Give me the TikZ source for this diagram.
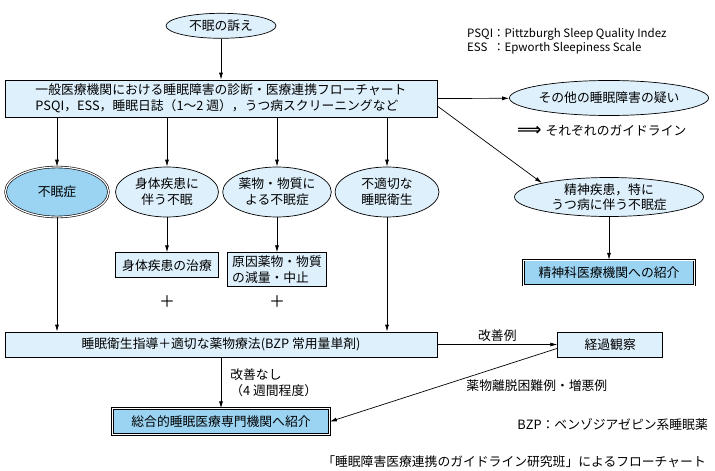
\documentclass[tikz,border=0pt]{standalone}
\usepackage{fontspec}
\setmainfont{Noto Sans CJK JP}
\newfontfamily\arrowfont{DejaVu Sans}
\usetikzlibrary{arrows.meta, positioning, shapes.geometric, calc}

\definecolor{paleblue}{RGB}{222,240,252}
\definecolor{midblue}{RGB}{155,212,242}
\newcommand{\flowfont}{\fontsize{12.8}{16}\selectfont}
\newcommand{\smallflowfont}{\fontsize{11.5}{14}\selectfont}

\tikzset{%
  oval/.style={draw, ellipse, fill=paleblue, line width=0.7pt, inner sep=0pt, align=center, font=\flowfont},
  keyoval/.style={oval, fill=midblue, line width=0.6pt, double, double distance=1.2pt},
  box/.style={draw, rectangle, fill=paleblue, line width=0.7pt, inner sep=0pt, align=center, font=\flowfont},
  keybox/.style={box, fill=midblue, line width=0.6pt, double, double distance=1.2pt},
  flow/.style={line width=0.7pt, -{Latex[length=7pt,width=4pt]}},
  note/.style={inner sep=0pt, align=left, font=\flowfont},
}

\begin{document}
\begin{tikzpicture}[x=1pt, y=-1pt]
  \useasboundingbox (0,0) rectangle (715,471);

  \node[box, minimum width=432pt, minimum height=37pt, align=left] (triage) at (221,98.5)
    {一般医療機関における睡眠障害の診断・医療連携フローチャート\\PSQI，ESS，睡眠日誌（1～2 週），うつ病スクリーニングなど};
  \node[oval, minimum width=110pt, minimum height=25pt] (complaint) [above = 41pt of triage] {不眠の訴え};

  \node[note, font=\smallflowfont] (abbr) [anchor=west] at (467,42)
    {\begin{tabular}{@{}l@{}l@{}}PSQI&：Pittzburgh Sleep Quality Indez\\ESS&：Epworth Sleepiness Scale\end{tabular}};

  \node[oval, minimum width=192pt, minimum height=35pt] (other) at (609,98) {その他の睡眠障害の疑い};
  \node[note] (guide) [anchor=west] at (517,131) {{\arrowfont\bfseries\fontsize{17}{17}\selectfont ⟹}\hspace{4pt}それぞれのガイドライン};

  \node[keyoval, minimum width=103pt, minimum height=50pt] (insomnia) at (57,192) {不眠症};
  \node[oval, minimum width=103pt, minimum height=50pt] (somatic) at (167,192) {身体疾患に\\伴う不眠};
  \node[oval, minimum width=103pt, minimum height=50pt] (drug) at (277,192) {薬物・物質に\\よる不眠症};
  \node[oval, minimum width=104pt, minimum height=50pt] (hygiene) at (387,192) {不適切な\\睡眠衛生};
  \node[oval, minimum width=189pt, minimum height=39pt, font=\fontsize{12.8}{14.5}\selectfont] (psych) at (609,197) {精神疾患，特に\\うつ病に伴う不眠症};

  \node[box, minimum width=103pt, minimum height=25pt] (cure) [below = 35pt of somatic] {身体疾患の治療};
  \node[box, minimum width=99pt, minimum height=34pt, align=left] (reduce) [below = 35pt of drug] {原因薬物・物質\\の減量・中止};
  \node[keybox, minimum width=171pt, minimum height=25pt] (psychref) [below = 43pt of psych] {精神科医療機関への紹介};

  \node[note, font=\fontsize{16}{16}\selectfont] (plus1) at (167,302) {＋};
  \node[note, font=\fontsize{16}{16}\selectfont] (plus2) at (277,302) {＋};

  \node[box, minimum width=432pt, minimum height=25pt] (treat) at (221,344.5) {睡眠衛生指導＋適切な薬物療法(BZP 常用量単剤)};
  \node[box, minimum width=105pt, minimum height=25pt] (follow) [right = 120pt of treat] {経過観察};
  \node[keybox, minimum width=217pt, minimum height=26pt] (refer) [below = 51pt of treat] {総合的睡眠医療専門機関へ紹介};

  \node[note] (bzp) [anchor=east] at (708,425) {BZP：ベンゾジアゼピン系睡眠薬};
  \node[note] (source) [anchor=east] at (706,462) {「睡眠障害医療連携のガイドライン研究班」によるフローチャート};

  \draw[flow] (complaint) -- (triage);
  \draw[flow] (triage.east) -- (other);
  \draw[flow] ($(triage.north east)!0.7!(triage.south east)$) -- (psych.north west);
  \draw[flow] (triage.south -| insomnia.north) -- (insomnia);
  \draw[flow] (triage.south -| somatic.north) -- (somatic);
  \draw[flow] (triage.south -| drug.north) -- (drug);
  \draw[flow] (triage.south -| hygiene.north) -- (hygiene);

  \draw[flow] (somatic) -- (cure);
  \draw[flow] (drug) -- (reduce);
  \draw[flow] (psych) -- (psychref);
  \draw[flow] (insomnia) -- (insomnia |- treat.north);
  \draw[flow] (hygiene) -- (hygiene |- treat.north);

  \draw[flow] (treat) to node[note, above=3pt] {改善例} (follow);
  \draw[flow] (treat) to node[note, right=9pt] {改善なし\\（4 週間程度）} (refer);
  \draw[flow] ($(follow.west)!0.3!(follow.south west)$) to node[note, pos=0.09, below=24pt] {薬物離脱困難例・増悪例} (refer.east);

\end{tikzpicture}
\end{document}
